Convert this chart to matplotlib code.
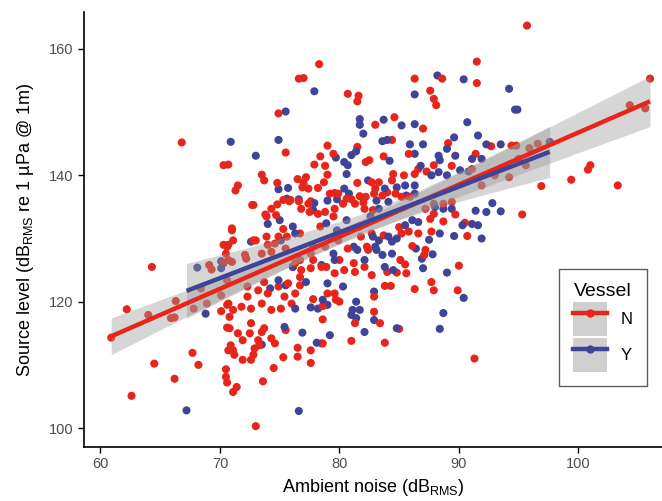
import numpy as np
import matplotlib
matplotlib.use("Agg")
import matplotlib.pyplot as plt
from matplotlib.lines import Line2D
from matplotlib.patches import Patch

plt.rcParams['font.family'] = ['Liberation Sans', 'DejaVu Sans']

# ---- data (Ambient noise dB_RMS, Source level dB_RMS) ----
n_points = [
    (66.8,145.2),(70.3,141.6),
    (78.3,157.6),(76.6,155.3),(77.0,155.4),(80.7,152.9),(81.6,152.6),(81.5,151.7),(74.9,149.8),(75.5,143.6),
    (79.0,144.7),(78.4,143.0),(79.5,143.4),(81.5,144.5),(82.2,142.1),(82.5,142.4),(77.9,141.7),(78.8,141.5),
    (79.0,140.1),(70.7,141.7),(73.5,140.1),(73.7,139.2),(71.5,138.4),(71.3,137.6),(74.8,138.8),(76.5,139.4),
    (77.2,139.7),(77.0,138.8),(76.9,138.1),(77.4,137.9),(78.2,138.0),(78.7,138.9),(81.5,138.8),(79.6,137.2),
    (79.2,137.1),(79.9,137.1),(80.6,136.3),(81.0,136.2),(81.7,136.7),(82.2,136.6),(72.7,135.3),(74.8,135.4),
    (74.3,134.7),(73.8,133.8),(75.8,135.9),(76.6,135.9),(77.4,135.5),(77.6,135.9),(76.8,134.7),(77.5,134.2),
    (78.2,133.9),(78.8,134.2),(79.6,134.7),(80.3,135.5),(81.3,135.5),(82.1,134.7),(75.3,131.5),(71.0,131.6),
    (91.5,158.0),(86.3,155.3),(88.6,155.3),(91.5,154.6),(87.6,153.4),(87.9,152.1),(88.1,151.1),(83.0,148.0),
    (84.6,149.2),(87.0,147.4),(84.4,145.6),(89.1,145.1),(92.7,144.6),(94.4,144.7),(91.4,143.4),(85.8,143.4),
    (83.7,143.0),(85.4,140.0),(84.5,140.2),(84.4,139.2),(83.3,138.9),(83.0,137.9),(86.3,140.2),(86.6,141.0),
    (87.3,140.6),(87.9,141.6),(89.4,141.5),(91.1,141.0),(82.7,138.9),(82.9,137.1),(83.6,136.8),(84.0,137.3),
    (84.7,137.1),(85.2,136.6),(85.9,136.6),(87.2,134.7),(87.9,135.5),(88.7,135.5),(89.4,135.8),(87.9,133.9),
    (88.7,132.7),(89.7,133.8),(90.5,132.5),(87.6,133.1),(85.0,131.8),(94.2,139.7),(93.0,140.0),(91.9,138.4),
    (95.7,163.7),(106.0,155.3),(104.3,151.1),(105.6,150.6),(95.9,144.3),(96.6,145.0),(95.0,142.6),(95.6,141.6),
    (94.8,144.7),(101.0,141.6),(100.8,140.9),(99.4,139.3),(96.9,138.3),(103.3,138.4),(95.3,133.8),
    (64.3,125.5),(69.1,125.8),(69.3,125.1),(70.3,129.0),(70.5,127.6),(70.3,126.1),(62.2,118.8),(64.0,117.9),
    (66.3,120.1),(65.9,117.4),(66.2,117.5),(60.9,114.3),(68.4,122.1),(67.8,118.9),(68.9,119.7),(70.1,121.0),
    (70.1,118.5),(70.6,119.5),(70.6,115.9),(67.7,111.9),(68.2,110.0),(64.5,110.2),(66.2,107.8),(62.6,105.1),
    (70.5,109.3),(70.5,108.1),(70.6,107.2),(70.7,112.3),
    (70.6,123.4),(71.0,126.3),(71.0,131.3),(75.6,130.3),(76.7,130.8),(78.4,131.9),(79.5,133.5),(82.0,135.7),
    (82.8,134.5),(82.3,128.7),(81.2,126.1),(80.0,126.6),(78.9,125.5),(77.8,126.6),(76.7,126.6),(76.1,125.5),
    (72.8,135.3),(73.9,133.5),(74.7,133.7),(75.3,136.1),(75.9,136.1),(70.6,128.7),(72.2,126.8),(72.8,129.7),
    (73.9,130.3),
    (73.0,129.7),(74.0,129.0),(74.6,129.2),(74.9,130.3),(75.5,128.4),(72.1,127.4),(73.5,127.6),(74.3,127.9),
    (77.6,127.6),(78.8,128.7),(79.9,129.7),(80.7,128.4),(81.8,130.3),(82.4,128.2),(82.1,125.5),(81.3,124.7),
    (80.4,125.0),(79.6,124.5),(78.5,125.5),(77.6,125.3),(76.8,125.0),(76.3,126.1),(70.7,129.0),(70.7,126.6),
    (71.1,129.7),(72.3,120.8),(73.2,121.8),(74.0,121.3),(74.9,122.4),(75.4,120.8),(73.5,119.7),(72.6,118.9),
    (74.3,118.7),(75.1,118.9),(76.0,119.7),(75.7,122.9),(73.7,123.1),(72.3,122.4),(76.7,123.9),(76.7,122.6),
    (76.3,121.3),(77.8,120.4),(78.6,119.3),(78.6,117.2),(79.6,121.3),(79.7,120.3),(80.0,120.0),(79.0,121.3),
    (81.3,116.6),(81.0,113.8),(78.6,113.4),(70.7,119.7),(71.1,118.7),(71.8,119.2),(70.8,117.6),(70.8,115.8),
    (71.5,115.0),(72.5,115.0),(71.9,113.9),(70.9,113.1),(71.1,112.3),(71.2,111.6),(72.6,116.6),(73.5,115.2),
    (73.7,115.8),(74.3,114.2),(74.6,113.4),(73.2,113.9),(73.3,113.1),(72.9,112.6),(72.8,111.6),(71.9,110.8),
    (72.6,110.8),(75.5,115.5),(75.3,111.2),(74.5,109.5),(76.5,112.7),(76.5,111.3),(77.6,112.3),(77.6,110.3),
    (78.5,113.4),(71.4,106.5),(71.1,105.7),(73.6,107.4),(73.0,100.3),
    (90.7,130.4),(86.1,128.8),(87.2,128.2),(87.1,127.4),(85.1,126.6),(85.5,125.9),(85.6,124.5),(84.8,124.6),
    (84.0,124.7),(82.7,124.2),(90.0,125.7),(87.7,123.1),(87.9,121.8),(89.9,121.8),(86.3,122.0),(83.8,122.5),
    (84.3,122.5),(82.9,120.8),(82.9,118.4),(83.4,116.6),(85.0,115.7),(83.8,113.5),(91.3,111.0),(82.7,130.8),
    (83.7,130.5),(85.2,130.8),(85.8,131.1),(86.6,130.8),(87.7,131.1),
]
y_points = [
    (77.9,153.3),(75.5,150.1),(81.7,148.9),(81.7,148.0),(82.0,146.6),(70.9,145.3),(74.9,145.6),(73.0,143.1),
    (79.7,142.8),(81.0,143.2),(81.4,143.8),(80.4,142.1),(80.7,141.6),(80.6,140.2),(74.9,137.8),(75.7,138.0),
    (80.4,137.9),(79.0,136.0),(79.8,136.2),(80.8,137.1),(82.4,139.2),(75.6,136.3),(76.6,136.2),(77.9,135.6),
    (74.0,132.3),
    (88.2,155.8),(90.4,155.2),(94.2,153.7),(86.3,152.8),(94.7,150.4),(90.7,148.4),(83.7,148.8),(85.2,147.9),
    (86.3,148.1),(83.6,145.4),(84.0,145.6),(85.9,144.9),(87.0,144.9),(89.6,146.0),(89.0,144.2),(89.7,143.1),
    (91.6,146.3),(92.3,144.9),(93.5,144.9),(91.1,142.6),(91.9,142.6),(86.3,143.4),(84.2,142.3),(88.3,143.1),
    (88.4,142.4),(86.8,141.5),(84.8,138.1),(85.5,138.4),(86.3,138.4),(83.8,137.9),(87.7,140.0),(88.3,140.5),
    (89.0,140.0),(90.1,140.8),(90.8,140.6),(83.1,136.0),(84.1,135.8),(83.3,134.7),(85.6,136.8),(86.3,137.1),
    (88.0,135.0),(88.7,134.7),(89.4,134.7),(91.4,134.4),(92.3,134.2),(92.8,135.6),(93.5,134.3),(91.1,132.3),
    (91.6,132.1),(90.3,132.1),(86.1,132.9),(86.6,132.6),(85.5,132.1),
    (94.9,150.4),(97.6,145.3),
    (68.1,125.4),(70.1,126.4),(70.1,125.3),(68.8,118.1),(67.2,102.8),
    (75.0,132.9),(76.1,131.9),(77.8,134.5),(78.9,132.4),(79.8,131.3),(80.6,132.9),(81.7,131.9),(82.6,133.5),
    (82.8,130.3),(77.8,128.7),(79.5,127.6),(81.2,128.7),
    (72.6,129.5),(75.1,129.7),(76.3,130.8),(79.6,126.6),(78.5,125.8),(80.3,122.4),(79.0,122.9),(77.2,123.1),
    (76.1,125.5),(82.1,126.6),(81.5,128.2),(75.5,122.6),(74.2,122.1),(74.9,123.4),(76.3,118.9),(75.4,116.0),
    (76.9,115.1),(78.1,113.5),(79.2,114.7),(77.6,119.1),(78.2,118.9),(78.6,120.3),(79.0,119.5),(81.4,120.0),
    (81.1,118.7),(81.7,118.7),(81.0,117.9),(81.4,117.4),(82.1,115.2),(73.5,113.2),(76.6,102.7),
    (91.9,130.0),(89.6,130.4),(88.4,130.8),(87.5,129.8),(87.8,127.5),(86.9,126.8),(86.4,128.4),(87.0,125.3),
    (89.0,124.6),(90.4,120.6),(88.7,118.2),(88.4,115.7),(84.8,115.8),(84.4,127.6),(83.8,125.5),(84.5,125.0),
    (82.9,121.6),(82.9,117.1),(83.1,128.2),(83.3,129.7),(84.1,130.3),(84.4,129.5),(84.8,130.0),(83.0,128.7),
    (83.6,127.4),
]
vessel_levels = ["N", "Y"]
colors = {"N": "#E8251B", "Y": "#3F4498"}

xticks = [60, 70, 80, 90, 100]
yticks = [100, 120, 140, 160]

fig = plt.figure(figsize=(6.62, 5.01), dpi=100)
ax = fig.add_axes([84/662, 54/501, 578/662, 435/501])

# points, drawn in an interleaved order
pts = [(x, y, "N") for x, y in n_points] + [(x, y, "Y") for x, y in y_points]
order = np.argsort([(p[0] * 7.31 + p[1] * 3.17) % 1.0 for p in pts])
px = np.array([pts[i][0] for i in order])
py = np.array([pts[i][1] for i in order])
pc = [colors[pts[i][2]] for i in order]
ax.scatter(px, py, s=34, c=pc, linewidths=0, zorder=2)

# linear fits with 95% confidence ribbons
def lm_band(xs, ys):
    xs = np.asarray(xs); ys = np.asarray(ys)
    n = len(xs)
    b, a = np.polyfit(xs, ys, 1)
    grid = np.linspace(xs.min(), xs.max(), 80)
    fit = a + b * grid
    resid = ys - (a + b * xs)
    s = np.sqrt(np.sum(resid ** 2) / (n - 2))
    se = s * np.sqrt(1.0 / n + (grid - xs.mean()) ** 2 / np.sum((xs - xs.mean()) ** 2))
    return grid, fit, 1.97 * se

for lvl, data in (("N", n_points), ("Y", y_points)):
    xs = [p[0] for p in data]; ys = [p[1] for p in data]
    g, f, w = lm_band(xs, ys)
    ax.fill_between(g, f - w, f + w, color="#999999", alpha=0.4, linewidth=0, zorder=3)
    ax.plot(g, f, color=colors[lvl], lw=3.2, zorder=4, solid_capstyle="butt")

ax.set_xlim(58.62, 107.0)
ax.set_ylim(97.0, 165.85)
ax.set_xticks(xticks)
ax.set_yticks(yticks)
ax.tick_params(axis="both", colors="#4D4D4D", labelsize=10.5, length=4, width=1, direction="out")
ax.tick_params(axis="both", color="black")
for side in ("top", "right"):
    ax.spines[side].set_visible(False)
for side in ("left", "bottom"):
    ax.spines[side].set_linewidth(1.2)

ax.set_xlabel(r"Ambient noise (dB$_{\mathregular{RMS}}$)", fontsize=13, labelpad=4)
ax.set_ylabel(r"Source level (dB$_{\mathregular{RMS}}$ re 1 µPa @ 1m)", fontsize=13, labelpad=9)

handles = []
for lvl in vessel_levels:
    handles.append((Patch(facecolor="#CFCFCF", edgecolor="none"),
                    Line2D([], [], color=colors[lvl], lw=3.2, marker="o", markersize=6,
                           markerfacecolor=colors[lvl], markeredgewidth=0)))
leg = ax.legend(handles, vessel_levels, title="Vessel", loc="upper left",
                bbox_to_anchor=(0.822, 0.409), borderaxespad=0.0, fontsize=12, title_fontsize=14,
                frameon=True, fancybox=False, edgecolor="#333333", borderpad=0.85,
                handlelength=2.05, handleheight=2.76, labelspacing=0.12, handletextpad=0.8)
leg.get_frame().set_linewidth(1.0)

fig.savefig("out.png", dpi=100)
